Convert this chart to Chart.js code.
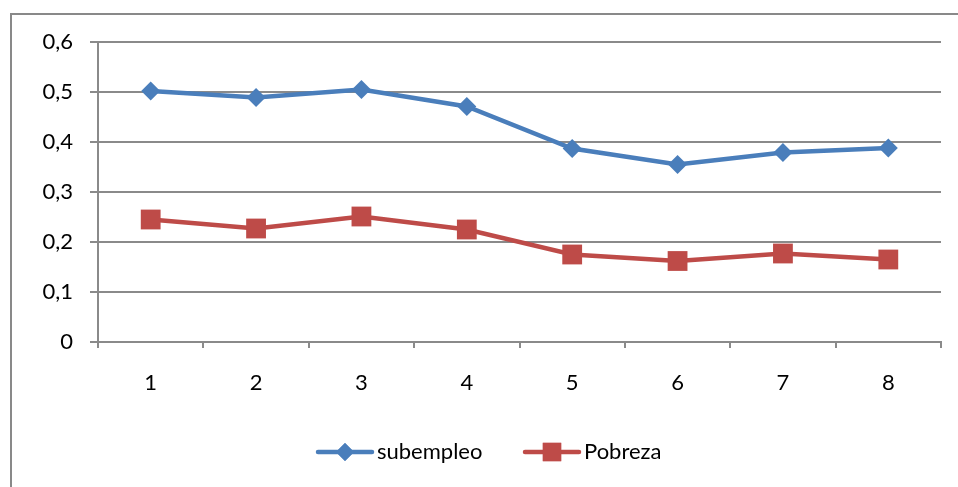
<!DOCTYPE html>
<html>
<head>
<meta charset="utf-8">
<script src="https://cdn.jsdelivr.net/npm/chart.js@4/dist/chart.umd.min.js"></script>
<style>
  body { margin: 0; background: #fff; }
  #wrap { position: relative; width: 958px; height: 487px; overflow: hidden; }
  #frame { position: absolute; left: 10px; top: 13px; width: 1000px; height: 600px; border: 2px solid #898989; box-sizing: border-box; }
  canvas { position: absolute; left: 0; top: 0; }
</style>
</head>
<body>
<div id="wrap">
  <div id="frame"></div>
  <canvas id="js--chart--1" width="958" height="487"></canvas>
</div>
<script>
const labels = ["1", "2", "3", "4", "5", "6", "7", "8"];
const subempleo = [0.502, 0.489, 0.505, 0.471, 0.387, 0.355, 0.379, 0.388];
const pobreza = [0.245, 0.227, 0.251, 0.225, 0.175, 0.162, 0.177, 0.165];
const yTicks = [0, 0.1, 0.2, 0.3, 0.4, 0.5, 0.6];

const blue = '#4A7EBB';
const red = '#BE4B48';
const gray = '#8a8a8a';
const font = { family: 'Lato, "Open Sans", sans-serif', size: 22 };

// legend drawn as Excel-style line + marker
const lineLegend = {
    id: 'lineLegend',
    afterDraw(chart) {
        const ctx = chart.ctx;
        const y = 452;
        const items = [
            { x: 318, text: 'subempleo', color: blue, style: 'rectRot', r: 9 },
            { x: 525, text: 'Pobreza', color: red, style: 'rect', r: 13 }
        ];
        ctx.save();
        items.forEach(function(it){
            ctx.strokeStyle = it.color;
            ctx.lineWidth = 4.5;
            ctx.lineCap = 'round';
            ctx.beginPath();
            ctx.moveTo(it.x, y);
            ctx.lineTo(it.x + 54, y);
            ctx.stroke();
            ctx.fillStyle = it.color;
            Chart.helpers.drawPoint(ctx, { pointStyle: it.style, radius: it.r, borderWidth: 0 }, it.x + 27, y);
            ctx.fill();
            ctx.fillStyle = '#000';
            ctx.font = font.size + 'px ' + font.family;
            ctx.textBaseline = 'middle';
            ctx.fillText(it.text, it.x + 59, y);
        });
        ctx.restore();
    }
};

const data = {
    labels: labels,
    datasets: [
        {
            label: 'subempleo',
            data: subempleo,
            borderColor: blue,
            backgroundColor: blue,
            borderWidth: 4.5,
            pointStyle: 'rectRot',
            pointRadius: 9.5,
            pointBorderWidth: 0,
            tension: 0
        },
        {
            label: 'Pobreza',
            data: pobreza,
            borderColor: red,
            backgroundColor: red,
            borderWidth: 4.5,
            pointStyle: 'rect',
            pointRadius: 14,
            pointBorderWidth: 0,
            tension: 0
        }
    ]
};

const config = {
    type: 'line',
    data: data,
    plugins: [lineLegend],
    options: {
        responsive: false,
        animation: false,
        layout: { padding: { left: 0, right: 17, top: 42, bottom: 0 } },
        plugins: { legend: { display: false }, tooltip: { enabled: false } },
        scales: {
            x: {
                offset: true,
                grid: { offset: true, drawOnChartArea: false, drawTicks: true, tickLength: 6, color: gray, lineWidth: 2 },
                border: { color: gray, width: 2 },
                ticks: { color: '#000', font: font, padding: 22 },
                afterFit(scale) { scale.height = 145; }
            },
            y: {
                min: 0,
                max: 0.6,
                afterBuildTicks(scale) { scale.ticks = yTicks.map(function(v){ return { value: v }; }); },
                grid: { color: gray, lineWidth: 2, tickLength: 8 },
                border: { color: gray, width: 2 },
                ticks: {
                    color: '#000', font: font, padding: 17,
                    callback: function(v){ return v === 0 ? '0' : v.toFixed(1).replace('.', ','); }
                },
                afterFit(scale) { scale.width = 98; }
            }
        }
    }
};

new Chart(document.getElementById('js--chart--1'), config);
</script>
</body>
</html>
